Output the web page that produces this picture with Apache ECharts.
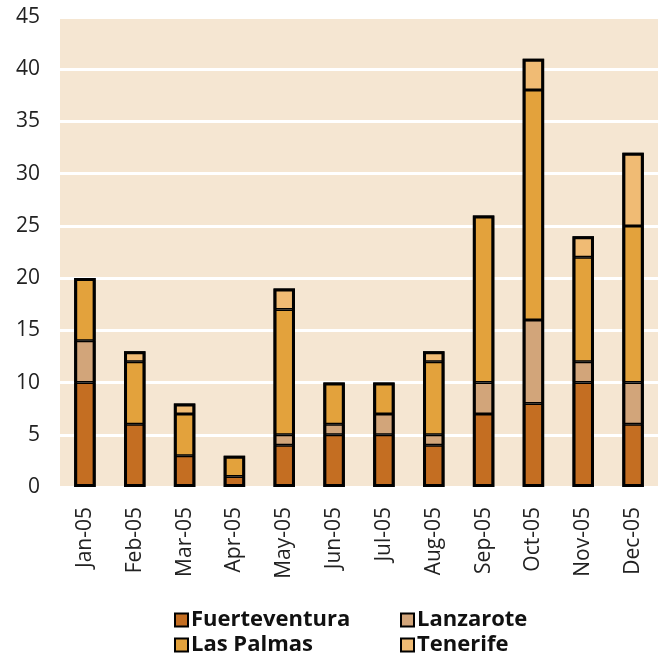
<!DOCTYPE html>
<html><head><meta charset="utf-8">
<script src="https://cdn.jsdelivr.net/npm/echarts@6/dist/echarts.min.js"></script>
<style>html,body{margin:0;padding:0;background:#fff;}#c{width:665px;height:659px;}</style>
</head><body><div id="c"></div>
<script>
const categories = ['Jan-05','Feb-05','Mar-05','Apr-05','May-05','Jun-05','Jul-05','Aug-05','Sep-05','Oct-05','Nov-05','Dec-05'];
const fuerteventura = [10,6,3,1,4,5,5,4,7,8,10,6];
const lanzarote     = [4,0,0,0,1,1,2,1,3,8,2,4];
const lasPalmas     = [6,6,4,2,12,4,3,7,16,22,10,15];
const tenerife      = [0,1,1,0,2,0,0,1,0,3,2,7];
const seriesNames = ['Fuerteventura','Lanzarote','Las Palmas','Tenerife'];
const colors = ['#C46E22','#D2A57A','#E3A23C','#F0BB74'];
const values = [fuerteventura, lanzarote, lasPalmas, tenerife];
const totals = categories.map((_,j)=>values.reduce((s,a)=>s+a[j],0));

const chart = echarts.init(document.getElementById('c'));
const font = '"Open Sans", "Noto Sans", sans-serif';
const legendPos = [[169,604],[395,604],[169,629],[395,629]];
const series = values.map((v,i)=>({
  name:seriesNames[i],type:'bar',stack:'t',data:v.map(x=>x===0?'-':x),barWidth:'43%',
  itemStyle:{color:colors[i],borderColor:'#000',borderWidth:1.5}
}));
series.push({name:'outline',type:'bar',data:totals,barWidth:'43%',barGap:'-100%',silent:true,
  itemStyle:{color:'rgba(0,0,0,0)',borderColor:'#000',borderWidth:3},z:3});
chart.setOption({
  animation:false,
  backgroundColor:'#fff',
  grid:{left:60,right:7,top:17,bottom:172,backgroundColor:'#F5E6D2',show:true,borderWidth:0},
  legend: seriesNames.map((n,i)=>({
    data:[n], left:legendPos[i][0], top:legendPos[i][1], itemWidth:13, itemHeight:13, itemGap:0,
    icon:'rect',
    itemStyle:{borderColor:'#000',borderWidth:2},
    textStyle:{fontFamily:font,fontWeight:'bold',fontSize:22,color:'#111',padding:[0,0,0,-2]}
  })),
  xAxis:{type:'category',data:categories,
    axisLine:{show:false},axisTick:{show:false},
    axisLabel:{rotate:90,fontFamily:font,fontSize:21,color:'#222',margin:20}},
  yAxis:{type:'value',min:0,max:45,interval:5,
    axisLine:{show:false},axisTick:{show:false},
    splitLine:{lineStyle:{color:'#fff',width:3}},
    axisLabel:{fontFamily:font,fontSize:21,color:'#222',margin:20}},
  series: series
});
</script></body></html>
